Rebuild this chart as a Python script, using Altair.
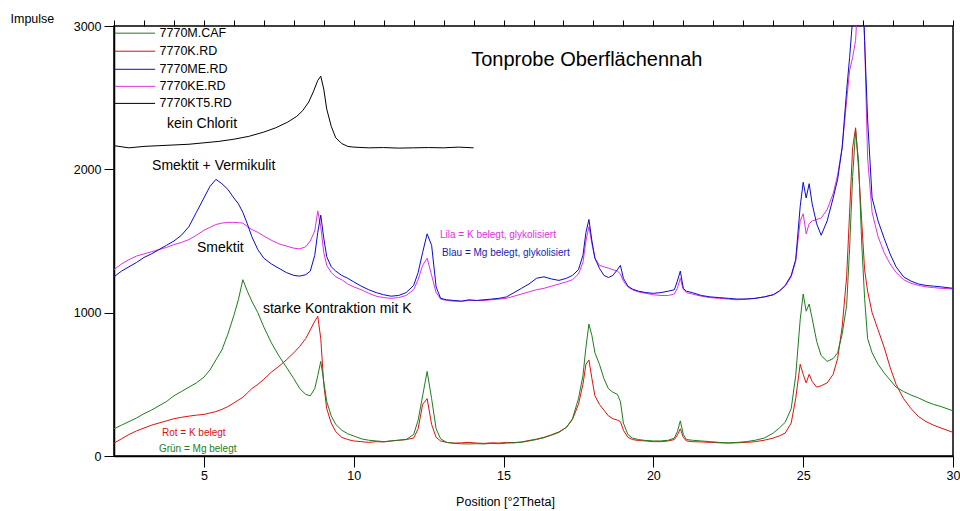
import altair as alt
import pandas as pd

# ---------------- data ----------------
X_MAIN = [
    2.0, 2.25, 2.5, 2.75, 3.0, 3.25, 3.5, 3.75, 4.0, 4.25,
    4.5, 4.75, 5.0, 5.2, 5.4, 5.6, 5.8, 6.0, 6.15, 6.3,
    6.45, 6.6, 6.8, 7.0, 7.25, 7.5, 7.75, 8.0, 8.2, 8.4,
    8.55, 8.7, 8.8, 8.9, 9.0, 9.1, 9.25, 9.4, 9.6, 9.8,
    10.0, 10.25, 10.5, 10.75, 11.0, 11.25, 11.5, 11.75, 12.0, 12.15,
    12.3, 12.45, 12.6, 12.75, 12.9, 13.1, 13.35, 13.6, 13.85, 14.1,
    14.35, 14.6, 14.85, 15.1, 15.35, 15.6, 15.85, 16.1, 16.35, 16.6,
    16.85, 17.1, 17.3, 17.5, 17.65, 17.75, 17.85, 17.95, 18.05, 18.2,
    18.35, 18.5, 18.65, 18.8, 18.9, 19.0, 19.15, 19.3, 19.5, 19.75,
    20.0, 20.25, 20.5, 20.7, 20.8, 20.9, 21.0, 21.1, 21.3, 21.6,
    21.9, 22.2, 22.5, 22.8, 23.1, 23.4, 23.7, 24.0, 24.2, 24.4,
    24.6, 24.75, 24.9, 25.0, 25.1, 25.2, 25.3, 25.45, 25.6, 25.8,
    26.0, 26.15, 26.3, 26.45, 26.55, 26.65, 26.75, 26.85, 26.95, 27.05,
    27.15, 27.3, 27.5, 27.7, 27.9, 28.1, 28.35, 28.6, 28.85, 29.1,
    29.35, 29.6, 29.8, 30.0,
]

Y_7770M_CAF = [  # green, Mg belegt
    190, 215, 240, 265, 295, 320, 350, 380, 420, 450,
    480, 510, 550, 600, 670, 740, 850, 980, 1090, 1230,
    1150, 1080, 1000, 900, 790, 700, 620, 540, 470, 430,
    420, 470, 560, 660, 520, 380, 280, 220, 180, 155,
    140, 120, 110, 105, 100, 105, 110, 115, 150, 250,
    420, 590, 400, 190, 120, 95, 88, 85, 84, 86,
    84, 88, 86, 90, 92, 96, 105, 115, 128, 145,
    165, 200, 260, 400, 560, 760, 920, 840, 720, 640,
    540, 470, 445, 430, 380, 230, 150, 125, 115, 108,
    105, 105, 110, 125, 170, 245, 150, 115, 110, 105,
    100, 95, 92, 95, 100, 110, 125, 160, 195, 235,
    330, 560, 950, 1130, 1010, 1060, 960, 800, 700, 660,
    680, 720, 850, 1050, 1450, 1950, 2270, 2050, 1500, 1100,
    820, 720, 640, 580, 530, 480, 450, 425, 405, 380,
    360, 345, 330, 315,
]

Y_7770K_RD = [  # red, K belegt
    90, 120, 150, 175, 195, 215, 230, 245, 260, 270,
    278, 285, 290, 300, 310, 325, 345, 370, 390, 410,
    440, 470, 500, 535, 585, 625, 670, 720, 765, 820,
    880, 940, 975, 820, 500, 330, 230, 170, 130, 115,
    105, 100, 95, 100, 98, 105, 110, 115, 125, 190,
    360, 400, 220, 130, 105, 95, 90, 92, 95, 90,
    88, 92, 90, 95, 93, 98, 108, 118, 130, 148,
    168, 200, 255, 360, 500, 640, 670, 540, 420, 360,
    320, 280, 260, 250, 240, 180, 130, 115, 108, 105,
    100, 100, 105, 115, 145, 190, 130, 105, 100, 98,
    95, 92, 90, 92, 95, 100, 110, 125, 140, 160,
    230, 400, 640, 570, 510, 570, 520, 480, 490, 510,
    570, 680, 900, 1250, 1700, 2150, 2290, 2000, 1650, 1300,
    1150, 1000, 880, 760, 620, 500, 400, 330, 275, 240,
    215, 195, 180, 165,
]

Y_7770ME_RD = [  # blue, Mg belegt, glykolisiert
    1250, 1290, 1320, 1350, 1385, 1410, 1440, 1470, 1500, 1540,
    1600, 1700, 1800, 1880, 1930, 1900, 1860, 1800, 1760, 1700,
    1620, 1530, 1440, 1380, 1340, 1310, 1280, 1260, 1255, 1265,
    1290, 1400, 1560, 1680, 1520, 1390, 1320, 1290, 1260, 1240,
    1215, 1185, 1160, 1140, 1125, 1115, 1120, 1140, 1190, 1280,
    1420, 1550, 1470, 1180, 1100, 1090, 1085, 1080, 1090, 1085,
    1090, 1095, 1100, 1110, 1140, 1170, 1200, 1240, 1250, 1235,
    1225, 1240, 1260, 1300, 1400, 1560, 1650, 1500, 1380, 1310,
    1260, 1245, 1260, 1300, 1330, 1240, 1185, 1165, 1150, 1140,
    1135, 1140, 1150, 1160, 1220, 1290, 1170, 1150, 1140, 1120,
    1110, 1105, 1100, 1095, 1095, 1100, 1110, 1125, 1150, 1190,
    1260, 1370, 1740, 1910, 1800, 1900, 1760, 1620, 1540, 1640,
    1800, 1930, 2150, 2550, 2780, 3050, 3700, 3800, 3500, 2900,
    2350, 1800, 1640, 1520, 1410, 1320, 1250, 1220, 1200, 1190,
    1185, 1180, 1175, 1170,
]

Y_7770KE_RD = [  # magenta, K belegt, glykolisiert
    1300, 1340, 1370, 1395, 1410, 1425, 1440, 1455, 1475, 1490,
    1510, 1540, 1575, 1595, 1615, 1625, 1630, 1630, 1628, 1625,
    1600, 1580, 1560, 1535, 1505, 1480, 1465, 1450, 1445, 1460,
    1500, 1570, 1710, 1600, 1420, 1330, 1280, 1250, 1230, 1200,
    1180, 1160, 1135, 1115, 1105, 1100, 1105, 1120, 1160, 1230,
    1330, 1380, 1260, 1140, 1095, 1085, 1080, 1080, 1085, 1085,
    1085, 1090, 1095, 1100, 1115, 1130, 1145, 1160, 1170, 1185,
    1200, 1215, 1230, 1270, 1350, 1500, 1600, 1480, 1380, 1330,
    1320, 1310, 1300, 1290, 1270, 1220, 1180, 1160, 1145, 1135,
    1125, 1120, 1120, 1130, 1170, 1240, 1160, 1140, 1130, 1115,
    1105, 1100, 1095, 1090, 1095, 1100, 1110, 1125, 1150, 1185,
    1250, 1360, 1640, 1690, 1550, 1620, 1640, 1650, 1660, 1720,
    1830, 1960, 2150, 2480, 2690, 2780, 2900, 3300, 3500, 2900,
    2080, 1700, 1530, 1420, 1340, 1280, 1230, 1205, 1190, 1180,
    1175, 1170, 1168, 1165,
]

X_KT5 = [2.0, 2.5, 3.0, 3.5, 4.0, 4.5, 5.0, 5.5, 6.0, 6.5,
         7.0, 7.4, 7.8, 8.1, 8.3, 8.5, 8.65, 8.8, 8.9, 9.0,
         9.1, 9.25, 9.4, 9.6, 9.8, 10.0, 10.5, 11.0, 11.5, 12.0,
         12.5, 13.0, 13.5, 14.0]
Y_7770KT5_RD = [2165, 2150, 2160, 2165, 2170, 2175, 2185, 2195, 2210, 2230,
                2260, 2290, 2330, 2370, 2410, 2470, 2540, 2620, 2650, 2560,
                2420, 2300, 2220, 2180, 2160, 2155, 2150, 2152, 2148, 2150,
                2152, 2150, 2155, 2150]

SERIES_NAMES = ["7770M.CAF", "7770K.RD", "7770ME.RD", "7770KE.RD", "7770KT5.RD"]
SERIES_COLORS = ["#1e7d1e", "#e01010", "#0a0ad0", "#e030e0", "#000000"]

X_MAJOR_TICKS = [5, 10, 15, 20, 25, 30]
X_MINOR_TICKS = list(range(2, 31))
Y_TICKS = [0, 1000, 2000, 3000]

ANNOT_TEXT = ["Tonprobe Oberflächennah", "kein Chlorit", "Smektit + Vermikulit", "Smektit",
              "starke Kontraktion mit K", "Lila = K belegt, glykolisiert",
              "Blau = Mg belegt, glykolisiert", "Rot = K belegt", "Grün = Mg belegt"]

# ---------------- build tables ----------------
for ys in (Y_7770M_CAF, Y_7770K_RD, Y_7770ME_RD, Y_7770KE_RD):
    assert len(ys) == len(X_MAIN), len(ys)
assert len(X_KT5) == len(Y_7770KT5_RD)

rows = []
draw_order = [("7770KT5.RD", X_KT5, Y_7770KT5_RD),
              ("7770KE.RD", X_MAIN, Y_7770KE_RD),
              ("7770ME.RD", X_MAIN, Y_7770ME_RD),
              ("7770K.RD", X_MAIN, Y_7770K_RD),
              ("7770M.CAF", X_MAIN, Y_7770M_CAF)]
for i, (name, xs_, ys) in enumerate(draw_order):
    for x, y in zip(xs_, ys):
        rows.append({"series": name, "theta": x, "counts": y, "ord": i})
df = pd.DataFrame(rows)

# legend table (positions in data units)
leg_y = [2950, 2824, 2698, 2579, 2460]
legend_df = pd.DataFrame({"series": SERIES_NAMES, "theta": [2.03] * 5,
                          "theta2": [3.37] * 5, "tx": [3.52] * 5, "counts": leg_y})

annot_df = pd.DataFrame({
    "text": ANNOT_TEXT,
    "theta": [13.92, 3.77, 3.27, 4.77, 6.97, 12.88, 12.95, 3.6, 3.5],
    "counts": [2761, 2314, 2020, 1454, 1028, 1545, 1419, 161, 49],
    "col": ["#000000", "#000000", "#000000", "#000000", "#000000",
            "#e030e0", "#1a1ab0", "#e01010", "#1e7d1e"],
    "fs": [20, 14, 14, 14, 14, 10, 10, 10, 10],
})

FONT = "Liberation Sans"

x_axis = alt.Axis(
    values=X_MAJOR_TICKS, format="d", tickSize=11, tickCount=100,
    grid=False, domainColor="black", tickColor="black", labelColor="black",
    labelFont=FONT, labelFontSize=12.5, labelPadding=2, labelFlush=False, labelOverlap=False,
    title="Position [°2Theta]", titleX=391, titleY=45, titleAlign="center",
    titleBaseline="middle", titleFontWeight="normal", titleFontSize=12.5,
    titleFont=FONT, titleColor="black", domainWidth=1.5,
)
x_minor_axis = alt.Axis(
    values=X_MINOR_TICKS, tickCount=100, tickSize=6, labels=False, domain=False, grid=False,
    tickColor="black", title=None,
)
y_axis = alt.Axis(
    values=Y_TICKS, format="d", tickCount=100, grid=False, tickSize=10, labelPadding=3,
    domainColor="black", tickColor="black", labelColor="black",
    labelFont=FONT, labelFontSize=12.5, domainWidth=1.5,
    title="Impulse", titleAngle=0, titleX=-104, titleY=-8, titleAlign="left",
    titleBaseline="middle", titleFontWeight="normal", titleFontSize=12.5,
    titleFont=FONT, titleColor="black",
)

xs = alt.Scale(domain=[2, 30], nice=False, zero=False)
ysc = alt.Scale(domain=[0, 3000], nice=False)
color_scale = alt.Scale(domain=SERIES_NAMES, range=SERIES_COLORS)

lines = alt.Chart(df).mark_line(strokeWidth=1, clip=True).encode(
    x=alt.X("theta:Q", scale=xs, axis=x_axis),
    y=alt.Y("counts:Q", scale=ysc, axis=y_axis),
    color=alt.Color("series:N", scale=color_scale, legend=None),
    order="ord:Q",
)

minor = alt.Chart(pd.DataFrame({"theta": [2, 30], "counts": [0, 0]})).mark_point(opacity=0).encode(
    x=alt.X("theta:Q", scale=xs, axis=x_minor_axis),
    y=alt.Y("counts:Q"),
)

leg_rules = alt.Chart(legend_df).mark_rule(strokeWidth=1).encode(
    x=alt.X("theta:Q", scale=xs, axis=None), x2="theta2:Q",
    y=alt.Y("counts:Q"),
    color=alt.Color("series:N", scale=color_scale, legend=None),
)
leg_text = alt.Chart(legend_df).mark_text(
    align="left", baseline="middle", font=FONT, fontSize=12.5, color="black"
).encode(x=alt.X("tx:Q", scale=xs, axis=None),
         y=alt.Y("counts:Q"), text="series:N")

annots = alt.Chart(annot_df).mark_text(align="left", baseline="middle", font=FONT).encode(
    x=alt.X("theta:Q", scale=xs, axis=None),
    y=alt.Y("counts:Q"), text="text:N",
    color=alt.Color("col:N", scale=None, legend=None),
    size=alt.Size("fs:Q", scale=None, legend=None),
)

chart = alt.layer(lines, minor, leg_rules, leg_text, annots).resolve_scale(
    x="independent", color="independent", size="independent"
).properties(
    width=839, height=430, autosize="none",
    padding={"left": 114, "top": 26, "right": 7, "bottom": 55},
    background="white",
).configure_view(stroke="black", strokeWidth=1.5)

chart.save("out.html", embed_options={"renderer": "svg", "actions": False})
